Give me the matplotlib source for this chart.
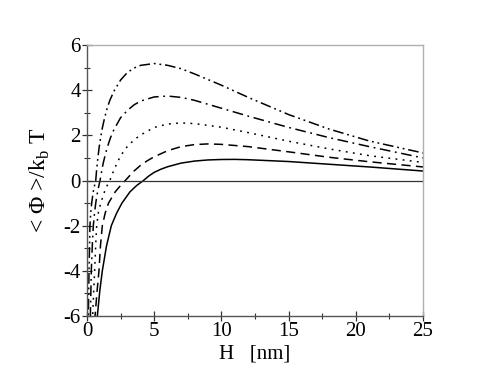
import matplotlib

matplotlib.use("Agg")
import matplotlib.pyplot as plt
from matplotlib.ticker import MultipleLocator

plt.rcParams["font.family"] = ["Liberation Serif", "DejaVu Serif"]
plt.rcParams["mathtext.fontset"] = "custom"
plt.rcParams["mathtext.rm"] = "Liberation Serif"
plt.rcParams["axes.unicode_minus"] = False

# potencial vs separacion, curvas
h_solid = [0.6, 0.77, 0.95, 1.14, 1.45, 1.81, 2.2, 2.6, 3.2, 3.7, 4.2, 4.6, 5, 5.5, 6, 7, 8, 9, 10, 11, 12, 15, 18, 21, 25]
v_solid = [-8.0, -6.0, -4.9, -4.0, -2.9, -2.0, -1.45, -1.0, -0.5, -0.22, 0.0, 0.2, 0.36, 0.5, 0.61, 0.77, 0.86, 0.91, 0.93, 0.935, 0.92, 0.84, 0.72, 0.6, 0.42]

h_dash = [0.5, 0.6, 0.75, 0.89, 1.0, 1.14, 1.35, 1.6, 2.1, 2.5, 2.85, 3.2, 3.5, 4, 4.5, 5, 6, 7, 8, 9, 10, 12, 15, 18, 21, 25]
v_dash = [-7.5, -6.0, -4.9, -4.0, -2.9, -2.0, -1.45, -1.0, -0.5, -0.22, 0.0, 0.23, 0.42, 0.68, 0.88, 1.05, 1.32, 1.5, 1.59, 1.62, 1.6, 1.5, 1.27, 1.03, 0.83, 0.6]

h_dot = [0.36, 0.42, 0.5, 0.57, 0.65, 0.72, 0.85, 1.05, 1.3, 1.5, 1.7, 1.85, 2, 2.25, 2.5, 2.75, 3, 3.5, 4, 5, 6, 7, 8, 10, 12, 15, 18, 21, 25]
v_dot = [-7.5, -6.0, -4.9, -4.0, -2.8, -2.0, -1.4, -0.95, -0.5, -0.22, 0.0, 0.24, 0.45, 0.8, 1.08, 1.32, 1.5, 1.8, 2.02, 2.35, 2.5, 2.55, 2.52, 2.36, 2.12, 1.74, 1.4, 1.1, 0.8]

h_dd = [0.2, 0.25, 0.32, 0.4, 0.47, 0.56, 0.65, 0.8, 0.97, 1.1, 1.2, 1.35, 1.5, 1.75, 2, 2.5, 3, 3.5, 4, 5, 6, 7, 8, 10, 12, 15, 18, 21, 25]
v_dd = [-8.0, -6.0, -4.0, -2.8, -2.0, -1.45, -1.0, -0.45, 0.0, 0.45, 0.75, 1.12, 1.45, 1.9, 2.25, 2.78, 3.1, 3.35, 3.52, 3.7, 3.74, 3.68, 3.55, 3.2, 2.85, 2.35, 1.9, 1.5, 1.0]

h_ddd = [0.07, 0.1, 0.15, 0.22, 0.28, 0.35, 0.45, 0.55, 0.65, 0.72, 0.8, 0.9, 1.0, 1.15, 1.3, 1.5, 1.7, 2, 2.5, 3, 3.5, 4, 5, 6, 7, 8, 10, 12, 15, 18, 21, 25]
v_ddd = [-8.0, -6.0, -4.0, -2.0, -1.4, -1.0, -0.55, -0.25, 0.0, 0.5, 0.95, 1.45, 1.85, 2.35, 2.75, 3.2, 3.55, 3.95, 4.45, 4.78, 4.98, 5.1, 5.18, 5.1, 4.95, 4.72, 4.22, 3.68, 2.92, 2.28, 1.75, 1.22]

fig = plt.figure(figsize=(4.91, 3.74), dpi=100)
ax = fig.add_axes([87 / 491, 1 - 316 / 374, 336 / 491, 271 / 374])

lw = 1.1
ax.plot(h_solid, v_solid, color="black", lw=lw, ls="-")
ax.plot(h_dash, v_dash, color="black", lw=lw, ls=(0, (6, 3.5)))
ax.plot(h_dot, v_dot, color="black", lw=lw, ls=(0, (1.2, 3.5)))
ax.plot(h_dd, v_dd, color="black", lw=lw, ls=(0, (7, 3, 1.2, 3)))
ax.plot(h_ddd, v_ddd, color="black", lw=lw, ls=(0, (7, 2.5, 1.2, 2.5, 1.2, 2.5)))
ax.axhline(0, color="#333333", lw=0.9)

ax.set_xlim(0, 25)
ax.set_ylim(-6, 6)
ax.xaxis.set_major_locator(MultipleLocator(5))
ax.xaxis.set_minor_locator(MultipleLocator(2.5))
ax.yaxis.set_major_locator(MultipleLocator(2))
ax.yaxis.set_minor_locator(MultipleLocator(1))
ax.tick_params(which="major", direction="inout", length=7, width=0.9, labelsize=15, color="#333333", pad=1)
ax.tick_params(which="minor", direction="inout", length=4, width=0.8, color="#333333")

for s in ("left", "bottom"):
    ax.spines[s].set_color("#555555")
    ax.spines[s].set_linewidth(1.0)
for s in ("top", "right"):
    ax.spines[s].set_color("#b0b0b0")
    ax.spines[s].set_linewidth(1.0)

ax.set_xlabel("H   [nm]", fontsize=15, labelpad=2)
ax.set_ylabel(r"< Φ >/k$_\mathregular{b}$ T", fontsize=17, labelpad=8)

fig.savefig("out.png", dpi=100)
